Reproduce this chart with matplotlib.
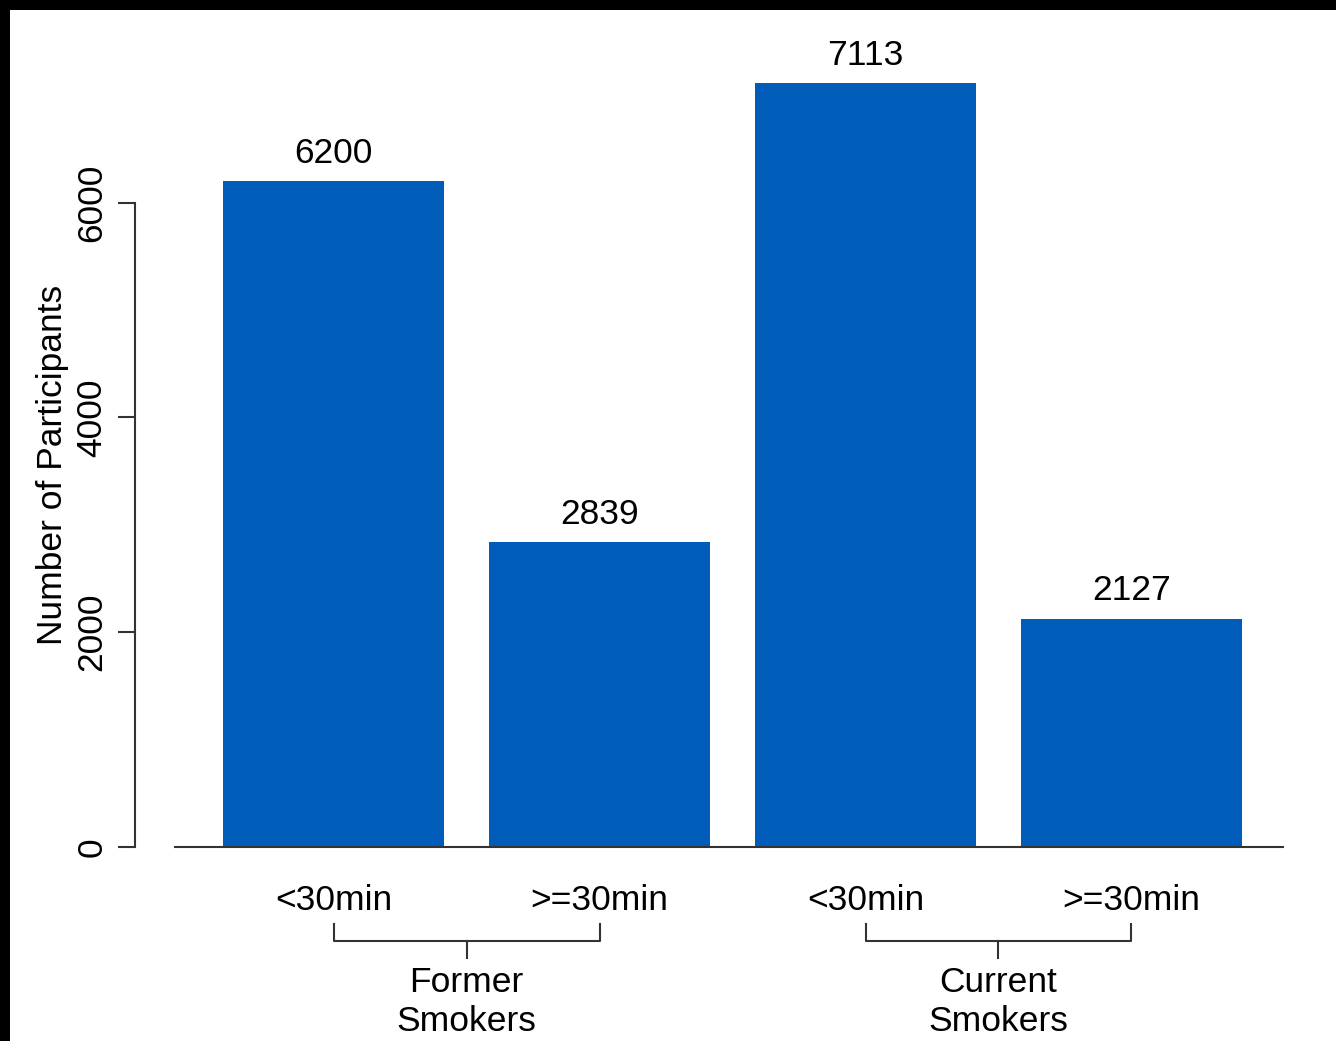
import matplotlib
matplotlib.use('Agg')
import matplotlib.pyplot as plt
from matplotlib.patches import Rectangle
from matplotlib.transforms import blended_transform_factory

# data
sub_labels = ['<30min', '>=30min', '<30min', '>=30min']
counts = [6200, 2839, 7113, 2127]
groups = ['Former\nSmokers', 'Current\nSmokers']
bar_color = '#005CB9'

plt.rcParams['font.family'] = ['Liberation Sans', 'DejaVu Sans']
fs = 25.5

fig = plt.figure(figsize=(13.36, 10.41), dpi=100)
fig.patch.set_facecolor('black')
# white canvas inside the black frame (top and left)
fig.add_artist(Rectangle((10 / 1336, 0), 1, 1 - 10 / 1041,
                         transform=fig.transFigure, facecolor='white',
                         edgecolor='none', zorder=0))

ymax = 7400
ax = fig.add_axes([175 / 1336, 1 - 847 / 1041, (1283 - 175) / 1336,
                   ymax * 0.1074 / 1041])
ax.patch.set_alpha(0)

# R-style barplot positions: width 1, space 0.2
xs = [0.7 + 1.2 * i for i in range(len(counts))]
ax.bar(xs, counts, width=1.0, color=bar_color, zorder=2)
ax.set_xlim(-0.016, 4.984)
ax.set_ylim(0, ymax)

for x, c in zip(xs, counts):
    ax.annotate(str(c), (x, c), xytext=(0, 8), textcoords='offset points',
                ha='center', va='bottom', fontsize=fs)

# axes styling
for s in ['top', 'right']:
    ax.spines[s].set_visible(False)
ax.spines['bottom'].set_linewidth(1.5)
ax.spines['left'].set_position(('outward', 29))
ax.spines['left'].set_bounds(0, 6000)
ax.spines['left'].set_linewidth(1.5)
ax.spines['left'].set_color('#333333')
ax.spines['bottom'].set_color('#333333')
ax.set_yticks([0, 2000, 4000, 6000])
ax.tick_params(axis='y', length=12, width=1.5, pad=7, labelsize=fs,
               labelrotation=90, color='#333333')
for lbl in ax.get_yticklabels():
    lbl.set_va('center')
ax.set_xticks([])

fig.text(53 / 1336, 1 - 465 / 1041, 'Number of Participants', rotation=90,
         ha='center', va='center', fontsize=fs)

# category labels and brackets below the axis
tr = blended_transform_factory(ax.transData, fig.transFigure)
fy = lambda px: 1 - px / 1041
for x, lab in zip(xs, sub_labels):
    ax.text(x, fy(900), lab, transform=tr, ha='center', va='center',
            fontsize=fs, clip_on=False)

for g, name in enumerate(groups):
    x0, x1 = xs[2 * g], xs[2 * g + 1]
    xm = (x0 + x1) / 2
    ax.plot([x0, x0, x1, x1], [fy(924), fy(941), fy(941), fy(924)], transform=tr,
            color='#333333', lw=1.5, clip_on=False)
    ax.plot([xm, xm], [fy(941), fy(958)], transform=tr,
            color='#333333', lw=1.5, clip_on=False)
    ax.text(xm, fy(1002), name, transform=tr, ha='center', va='center',
            fontsize=fs, linespacing=1.2, clip_on=False)

fig.savefig('out.png', dpi=100, facecolor=fig.get_facecolor())
